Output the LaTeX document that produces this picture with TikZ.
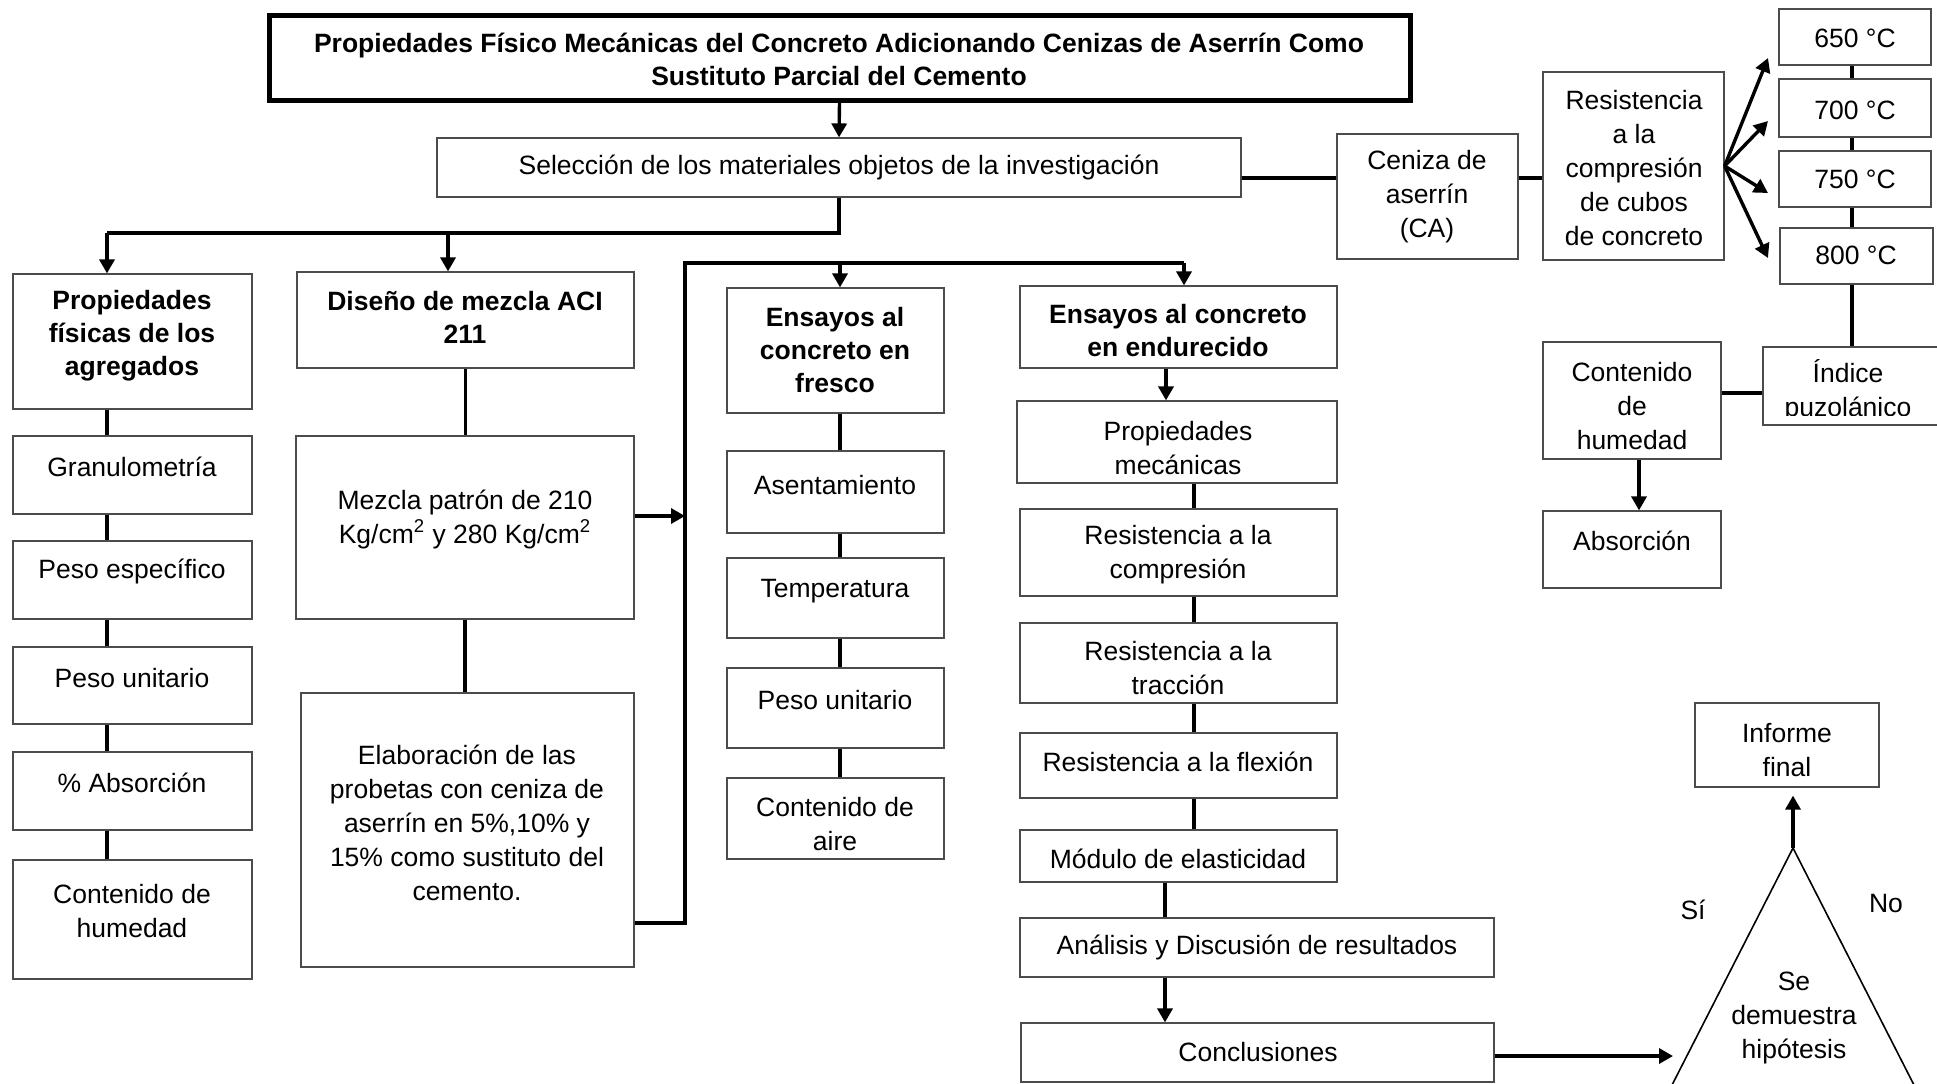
\documentclass[tikz,border=0pt]{standalone}
\usepackage{fontspec}
\setmainfont{Liberation Sans}
\usetikzlibrary{arrows.meta,fit}
\newcommand\Bx[6][]{\node[bx,#1,fit={(#3,#4) (#5,#6)}] (#2) {};}
\begin{document}
\begin{tikzpicture}[x=0.5pt,y=-0.5pt,
  bx/.style={draw=black!70,line width=0.6pt,inner sep=0pt},
  tx/.style={font=\fontsize{13.25}{17}\selectfont,align=center,inner sep=0pt,yshift=-1.5pt},
  btx/.style={font=\fontsize{13.25}{16.5}\selectfont\bfseries,align=center,inner sep=0pt,yshift=-1.5pt},
  conn/.style={line width=1.9pt},
  arr/.style={line width=1.7pt,-{Triangle[length=7pt,width=7.5pt]}}]
\clip (0,0) rectangle (1937,1083);
\fill[white] (0,0) rectangle (1937,1083);
% ---------- boxes ----------
\Bx[draw=black,line width=2.5pt]{title}{269}{15}{1410}{100}
\Bx{sel}{437}{138}{1241}{197}
\Bx{ceniza}{1337}{134}{1518}{259}
\Bx{resis}{1543}{72}{1724}{260}
\Bx{t650}{1779}{9}{1931}{65}
\Bx{t700}{1779}{79}{1931}{137}
\Bx{t750}{1779}{151}{1931}{207}
\Bx{t800}{1780}{228}{1933}{284}
\Bx{indice}{1763}{347}{1950}{425}
\Bx{contR}{1543}{342}{1721}{459}
\Bx{absR}{1543}{511}{1721}{588}
\Bx{propfis}{13}{274}{252}{409}
\Bx{gran}{13}{436}{252}{514}
\Bx{pesoesp}{13}{541}{252}{619}
\Bx{pesouni}{13}{647}{252}{724}
\Bx{absL}{13}{752}{252}{830}
\Bx{contL}{13}{860}{252}{979}
\Bx{diseno}{297}{272}{634}{368}
\Bx{mezcla}{296}{436}{634}{619}
\Bx{elab}{301}{693}{634}{967}
\Bx{fresco}{727}{288}{944}{413}
\Bx{asent}{727}{451}{944}{533}
\Bx{temp}{727}{558}{944}{638}
\Bx{pesoF}{727}{668}{944}{748}
\Bx{aire}{727}{778}{944}{859}
\Bx{endu}{1020}{286}{1337}{368}
\Bx{propmec}{1017}{401}{1337}{483}
\Bx{comp}{1020}{509}{1337}{596}
\Bx{trac}{1020}{623}{1337}{703}
\Bx{flex}{1020}{733}{1337}{798}
\Bx{mod}{1020}{830}{1337}{882}
\Bx{anal}{1020}{918}{1494}{977}
\Bx{concl}{1021}{1023}{1494}{1082}
\Bx{informe}{1695}{703}{1879}{787}
% ---------- texts ----------
\node[btx,yshift=1.5pt] (title-t) at (839,59) {Propiedades Físico Mecánicas del Concreto Adicionando Cenizas de Aserrín Como\\Sustituto Parcial del Cemento};
\node[tx] (sel-t) at (839,164) {Selección de los materiales objetos de la investigación};
\node[tx] (ceniza-t) at (1427,194) {Ceniza de\\aserrín\\(CA)};
\node[tx] (resis-t) at (1634,165) {Resistencia\\a la\\compresión\\de cubos\\de concreto};
\node[tx] (t650-t) at (1855,35) {650 °C};
\node[tx] (t700-t) at (1855,107) {700 °C};
\node[tx] (t750-t) at (1855,176) {750 °C};
\node[tx] (t800-t) at (1856,252) {800 °C};
\begin{scope}
\clip (1763,347) rectangle (1950,415);
\node[tx] (indice-t) at (1848,388) {Índice\\puzolánico};
\end{scope}
\node[tx] (contR-t) at (1632,403) {Contenido\\de\\humedad};
\node[tx] (absR-t) at (1632,538) {Absorción};
\node[btx] (propfis-t) at (132,333) {Propiedades\\físicas de los\\agregados};
\node[tx] (gran-t) at (132,464) {Granulometría};
\node[tx] (pesoesp-t) at (132,568) {Peso específico};
\node[tx] (pesouni-t) at (132,675) {Peso unitario};
\node[tx] (absL-t) at (132,780) {\% Absorción};
\node[tx] (contL-t) at (132,908) {Contenido de\\humedad};
\node[btx] (diseno-t) at (465,314) {Diseño de mezcla ACI\\211};
\node[tx] (mezcla-t) at (465,516) {Mezcla patrón de 210\\Kg/cm\textsuperscript{2} y 280 Kg/cm\textsuperscript{2}};
\node[tx] (elab-t) at (467,820) {Elaboración de las\\probetas con ceniza de\\aserrín en 5\%,10\% y\\15\% como sustituto del\\cemento.};
\node[btx] (fresco-t) at (835,347) {Ensayos al\\concreto en\\fresco};
\node[tx] (asent-t) at (835,482) {Asentamiento};
\node[tx] (temp-t) at (835,588) {Temperatura};
\node[tx] (pesoF-t) at (835,697) {Peso unitario};
\node[tx] (aire-t) at (835,821) {Contenido de\\aire};
\node[btx] (endu-t) at (1178,328) {Ensayos al concreto\\en endurecido};
\node[tx] (propmec-t) at (1178,445) {Propiedades\\mecánicas};
\node[tx] (comp-t) at (1178,552) {Resistencia a la\\compresión};
\node[tx] (trac-t) at (1178,665) {Resistencia a la\\tracción};
\node[tx] (flex-t) at (1178,759) {Resistencia a la flexión};
\node[tx] (mod-t) at (1178,856) {Módulo de elasticidad};
\node[tx] (anal-t) at (1257,944) {Análisis y Discusión de resultados};
\node[tx] (concl-t) at (1258,1049) {Conclusiones};
\node[tx] (informe-t) at (1787,747) {Informe\\final};
\node[tx] (si) at (1693,907) {Sí};
\node[tx] (no) at (1886,900) {No};
\node[tx] (hyp) at (1794,1015) {Se\\demuestra\\hipótesis};
% ---------- coordinates ----------
\coordinate (b1) at (107,233);
\coordinate (b2) at (448,233);
\coordinate (b0) at (839,233);
\coordinate (busT) at (685,263);
\coordinate (busB) at (685,923);
\coordinate (bF) at (840,263);
\coordinate (bE) at (1184,263);
\coordinate (ma) at (685,516);
\coordinate (xF) at (840,0);
\coordinate (xE1) at (1166,0);
\coordinate (xE2) at (1194,0);
\coordinate (xE3) at (1165,0);
\coordinate (cy) at (0,178);
\coordinate (tx) at (1852,0);
\coordinate (iy) at (0,393);
\coordinate (ax) at (1639,0);
\coordinate (tip1) at (1768,58);
\coordinate (tip2) at (1768,121);
\coordinate (tip3) at (1768,193);
\coordinate (tip4) at (1768,258);
\coordinate (apex) at (1793,848);
\coordinate (trl) at (1673,1056);
% ---------- connectors ----------
\draw[arr] (title.south) -- (sel.north);
\draw[conn] (sel.south) -- (b0) -- (b1);
\draw[arr] (b1) -- (b1 |- propfis.north);
\draw[arr] (b2) -- (b2 |- diseno.north);
% left column
\draw[conn] (b1 |- propfis.south) -- (b1 |- gran.north);
\draw[conn] (b1 |- gran.south) -- (b1 |- pesoesp.north);
\draw[conn] (b1 |- pesoesp.south) -- (b1 |- pesouni.north);
\draw[conn] (b1 |- pesouni.south) -- (b1 |- absL.north);
\draw[conn] (b1 |- absL.south) -- (b1 |- contL.north);
% mix design
\draw[conn] (diseno.south) -- (diseno.south |- mezcla.north);
\draw[conn] (mezcla.south) -- (mezcla.south |- elab.north);
\draw[arr] (mezcla.east |- ma) -- (ma);
\draw[conn] (elab.east |- busB) -- (busB) -- (busT) -- (bE);
\draw[arr] (bF) -- (bF |- fresco.north);
\draw[arr] (bE) -- (bE |- endu.north);
% fresh concrete
\draw[conn] (xF |- fresco.south) -- (xF |- asent.north);
\draw[conn] (xF |- asent.south) -- (xF |- temp.north);
\draw[conn] (xF |- temp.south) -- (xF |- pesoF.north);
\draw[conn] (xF |- pesoF.south) -- (xF |- aire.north);
% hardened concrete
\draw[arr] (xE1 |- endu.south) -- (xE1 |- propmec.north);
\draw[conn] (xE2 |- propmec.south) -- (xE2 |- comp.north);
\draw[conn] (xE2 |- comp.south) -- (xE2 |- trac.north);
\draw[conn] (xE2 |- trac.south) -- (xE2 |- flex.north);
\draw[conn] (xE2 |- flex.south) -- (xE2 |- mod.north);
\draw[conn] (xE3 |- mod.south) -- (xE3 |- anal.north);
\draw[arr] (xE3 |- anal.south) -- (xE3 |- concl.north);
% right part
\draw[conn] (sel.east |- cy) -- (ceniza.west |- cy);
\draw[conn] (ceniza.east |- cy) -- (resis.west |- cy);
\draw[arr] (resis.east) -- (tip1);
\draw[arr] (resis.east) -- (tip2);
\draw[arr] (resis.east) -- (tip3);
\draw[arr] (resis.east) -- (tip4);
\draw[conn] (tx |- t650.south) -- (tx |- t700.north);
\draw[conn] (tx |- t700.south) -- (tx |- t750.north);
\draw[conn] (tx |- t750.south) -- (tx |- t800.north);
\draw[conn] (tx |- t800.south) -- (tx |- indice.north);
\draw[conn] (contR.east |- iy) -- (indice.west |- iy);
\draw[arr] (ax |- contR.south) -- (ax |- absR.north);
% decision
\draw[line width=0.8pt] (1647.5,1133) -- (apex) -- (1938.5,1133);
\draw[arr] (concl.east |- trl) -- (trl);
\draw[arr,shorten >=4pt] (apex) -- (apex |- informe.south);
\end{tikzpicture}
\end{document}
